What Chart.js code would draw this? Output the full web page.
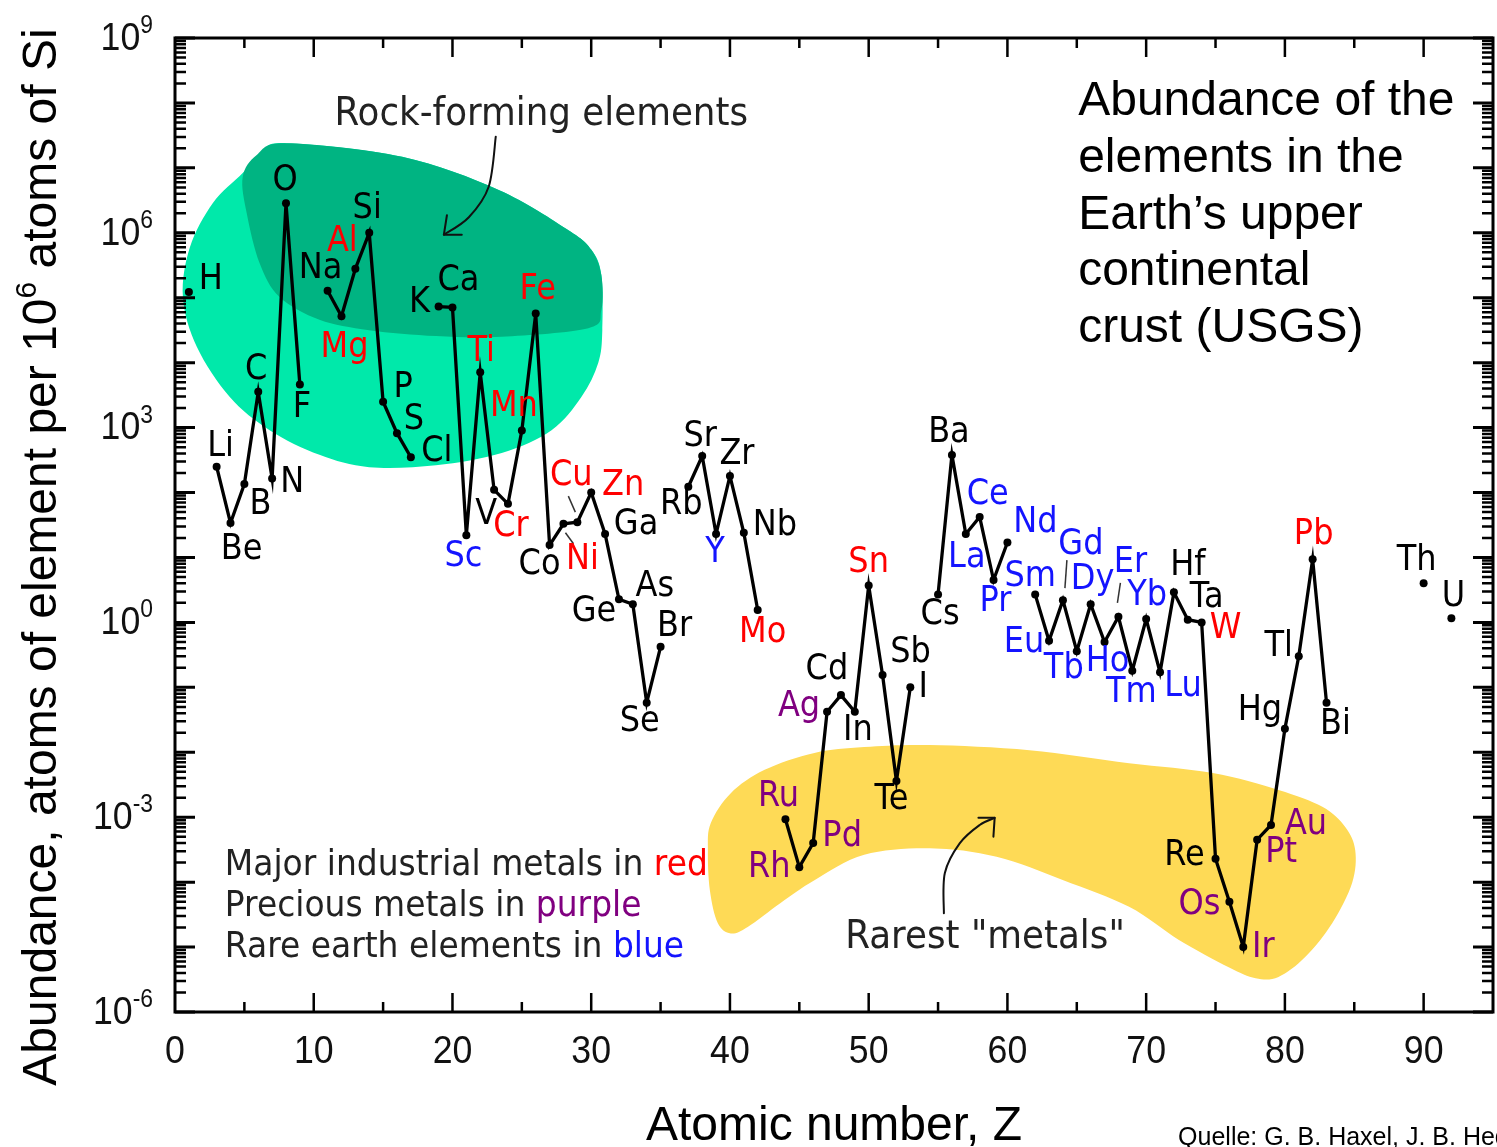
<!DOCTYPE html>
<html>
<head>
<meta charset="utf-8">
<script src="https://cdn.jsdelivr.net/npm/chart.js@4.4.1/dist/chart.umd.min.js"></script>
<style>
html,body{margin:0;padding:0;background:#fff;overflow:hidden}
canvas{display:block}
</style>
</head>
<body>
<canvas id="c" width="1497" height="1147"></canvas>
<script>
// ---------------- DATA ----------------
const ELEMENT_SYMBOLS = ["H","He","Li","Be","B","C","N","O","F","Ne","Na","Mg","Al","Si","P","S","Cl","Ar","K","Ca",
 "Sc","Ti","V","Cr","Mn","Fe","Co","Ni","Cu","Zn","Ga","Ge","As","Se","Br","Kr","Rb","Sr","Y","Zr",
 "Nb","Mo","Tc","Ru","Rh","Pd","Ag","Cd","In","Sn","Sb","Te","I","Xe","Cs","Ba","La","Ce","Pr","Nd",
 "Pm","Sm","Eu","Gd","Tb","Dy","Ho","Er","Tm","Yb","Lu","Hf","Ta","W","Re","Os","Ir","Pt","Au","Hg",
 "Tl","Pb","Bi","Po","At","Rn","Fr","Ra","Ac","Th","Pa","U"];

const ATOMIC_NUMBER = [1,2,3,4,5,6,7,8,9,10,11,12,13,14,15,16,17,18,19,20,
 21,22,23,24,25,26,27,28,29,30,31,32,33,34,35,36,37,38,39,40,
 41,42,43,44,45,46,47,48,49,50,51,52,53,54,55,56,57,58,59,60,
 61,62,63,64,65,66,67,68,69,70,71,72,73,74,75,76,77,78,79,80,
 81,82,83,84,85,86,87,88,89,90,91,92];

// atoms of element per 10^6 atoms of Si (null = not plotted)
const ABUNDANCE = [
 1.23e5, null, 250, 34, 135, 3550, 165, 2.85e6, 4600, null,
 1.28e5, 5.2e4, 2.8e5, 1.0e6, 2500, 820, 350, null, 7.3e4, 7.1e4,
 22, 7100, 110, 67, 900, 5.7e4, 15.5, 33, 35, 100,
 23, 2.27, 1.9, 0.058, 0.42, null, 123, 365, 23, 180,
 24, 1.55, null, 9.3e-4, 1.7e-4, 4.0e-4, 0.042, 0.076, 0.042, 3.7,
 0.155, 3.6e-3, 0.1, null, 2.7, 380, 23, 42, 4.5, 17,
 null, 2.7, 0.52, 2.2, 0.36, 1.9, 0.5, 1.22, 0.18, 1.13,
 0.17, 2.9, 1.1, 1.0, 2.3e-4, 5.0e-5, 1.0e-5, 4.5e-4, 7.6e-4, 0.023,
 0.30, 9.35, 0.058, null, null, null, null, null, null, 4.0,
 null, 1.16];

const INDUSTRIAL_METALS = ["Mg","Al","Ti","Cr","Mn","Fe","Ni","Cu","Zn","Mo","Sn","W","Pb"];
const PRECIOUS_METALS = ["Ru","Rh","Pd","Ag","Os","Ir","Pt","Au"];
const RARE_EARTHS = ["Sc","Y","La","Ce","Pr","Nd","Sm","Eu","Gd","Tb","Dy","Ho","Er","Tm","Yb","Lu"];

const X_LABEL_VALUES = [0,10,20,30,40,50,60,70,80,90];
const Y_LABEL_EXPONENTS = [-6,-3,0,3,6,9];
const Y_DECADES = [-6,-5,-4,-3,-2,-1,0,1,2,3,4,5,6,7,8];
const Y_MANTISSAS = [1,2,3,4,5,6,7,8,9];

const TITLE_LINES = ["Abundance of the","elements in the","Earth\u2019s upper","continental","crust (USGS)"];
const LEGEND_LINES = [["Major industrial metals in ","red"],["Precious metals in ","purple"],["Rare earth elements in ","blue"]];

// ---------------- STYLE / LAYOUT ----------------
const COLORS = {normal:"#000000", red:"#ff0000", purple:"#800080", blue:"#1414ff",
  greenLight:"rgb(0,233,170)", greenDark:"rgb(0,180,130)", yellow:"rgb(254,218,86)"};
const SX = 0.915; // horizontal squeeze of plot texts
const LABEL_FONT = '35px "DejaVu Sans"';

// label centre offsets (px) from each point
const LABEL_OFFSETS = {
 H:[22,-12], Li:[4,-20], Be:[11,27], B:[16,21], C:[-2,-22], N:[20,4], O:[-1,-22], F:[2,23],
 Na:[-7,-22], Mg:[3,32], Al:[-13,-27], Si:[-2,-24], P:[20,-14], S:[17,-13], Cl:[26,-5],
 K:[-19,-4], Ca:[6,-26], Sc:[-3,22], Ti:[1,-20], V:[-8,25], Cr:[3,23], Mn:[-8,-24], Fe:[2,-24],
 Co:[-10,20], Ni:[19,36], Cu:[-6,-46], Zn:[32,-7], Ga:[31,-9], Ge:[-25,13], As:[22,-17], Se:[-7,19], Br:[14,-20],
 Rb:[-7,18], Sr:[-2,-19], Y:[-1,19], Zr:[7,-21], Nb:[31,-7], Mo:[5,23],
 Ru:[-7,-22], Rh:[-30,1], Pd:[29,-6], Ag:[-28,-5], Cd:[-14,-25], In:[3,19], Sn:[0,-23], Sb:[28,-22], Te:[-5,19], I:[13,1],
 Cs:[2,21], Ba:[-3,-22], La:[1,24], Ce:[8,-22], Pr:[2,22], Nd:[28,-20], Sm:[-5,-17], Eu:[-25,2], Gd:[18,-55], Tb:[-13,18],
 Dy:[2,-24], Ho:[3,20], Er:[12,-54], Tm:[-1,22], Yb:[1,-23], Lu:[23,15], Hf:[14,-26], Ta:[19,-22], W:[24,7],
 Re:[-31,-3], Os:[-30,3], Ir:[20,1], Pt:[24,13], Au:[35,0], Hg:[-25,-18], Tl:[-20,-9], Pb:[1,-24], Bi:[9,22],
 Th:[-7,-22], U:[2,-21]
};
const LEADERS = {Cu:[-9,-26,-2,-10], Ni:[2,9,10,20], Gd:[4,-40,2,-12], Er:[2,-34,-1,-14]};

// decorative regions in data space: [Z, log10(abundance)]
const GREEN_OUTER = [[8.04,7.38],[16.37,7.17],[23.33,6.66],[28.36,6.04],[30.01,5.74],[30.73,5.35],[30.80,4.50],[30.51,4.00],[29.29,3.47],[27.14,2.96],[23.55,2.61],[18.81,2.42],[14.0,2.39],[10.41,2.58],[6.82,2.96],[3.95,3.47],[1.58,4.24],[0.57,5.01],[1.08,5.78],[2.73,6.46],[4.88,6.92],[6.25,7.24]];
const GREEN_INNER = [[8.04,7.38],[16.37,7.17],[23.33,6.66],[28.36,6.04],[30.01,5.74],[30.73,5.35],[30.73,4.81],[29.79,4.53],[23.55,4.40],[18.81,4.41],[14.0,4.50],[10.41,4.66],[7.54,5.01],[6.10,5.53],[5.17,6.30],[4.88,6.86],[5.89,7.20]];
const YELLOW = [[38.62,-3.09],[40.06,-2.63],[42.50,-2.27],[46.09,-2.01],[49.68,-1.92],[54.41,-1.89],[61.59,-1.97],[68.77,-2.17],[74.80,-2.32],[79.54,-2.58],[82.70,-2.84],[84.35,-3.15],[85.07,-3.51],[84.85,-4.01],[83.42,-4.63],[81.48,-5.15],[79.54,-5.46],[77.89,-5.48],[75.95,-5.31],[72.36,-4.89],[68.77,-4.38],[64.03,-3.97],[59.22,-3.61],[54.41,-3.48],[49.68,-3.58],[46.09,-3.97],[43.65,-4.32],[41.28,-4.69],[40.06,-4.79],[39.12,-4.63],[38.55,-4.12],[38.41,-3.51]];
const ROCK_ARROW = {path:[[23.12,7.48],[22.61,6.71],[21.18,6.24],[19.38,5.97]], head:[[19.60,6.27],[19.38,5.97],[20.67,5.97]]};
const RARE_ARROW = {path:[[55.42,-4.48],[55.49,-3.86],[56.57,-3.40],[58.0,-3.12],[59.08,-3.01]], head:[[57.91,-3.01],[59.08,-3.01],[58.99,-3.30]]};
const ROCK_TEXT_AT = [11.49, 7.81];
const RARE_TEXT_AT = [48.31, -4.86];
const LEGEND_AT = [3.59, -3.74];
const TITLE_AT = [65.1, 7.81];
const SOURCE_AT = [72.3];

// ---------------- helpers ----------------
function labelColor(sym){
  if (INDUSTRIAL_METALS.includes(sym)) return COLORS.red;
  if (PRECIOUS_METALS.includes(sym)) return COLORS.purple;
  if (RARE_EARTHS.includes(sym)) return COLORS.blue;
  return COLORS.normal;
}
function txt(ctx, s, x, y, font, color, align, baseline, sx){
  ctx.save(); ctx.translate(x, y); ctx.scale(sx || 1, 1);
  ctx.font = font; ctx.fillStyle = color; ctx.textAlign = align || 'left';
  ctx.textBaseline = baseline || 'alphabetic';
  ctx.fillText(s, 0, 0); ctx.restore();
}
function tw(ctx, s, font, sx){ ctx.save(); ctx.font = font; const m = ctx.measureText(s).width * (sx || 1); ctx.restore(); return m; }

function toPx(chart, p){ return [chart.scales.x.getPixelForValue(p[0]), chart.scales.y.getPixelForValue(Math.pow(10, p[1]))]; }

function smoothPath(ctx, P, closed){
  const n = P.length;
  ctx.moveTo(P[0][0], P[0][1]);
  const last = closed ? n : n - 1;
  for (let i = 0; i < last; i++){
    const p0 = closed ? P[(i - 1 + n) % n] : P[Math.max(i - 1, 0)];
    const p1 = P[i % n];
    const p2 = closed ? P[(i + 1) % n] : P[i + 1];
    const p3 = closed ? P[(i + 2) % n] : P[Math.min(i + 2, n - 1)];
    ctx.bezierCurveTo(p1[0] + (p2[0] - p0[0]) / 6, p1[1] + (p2[1] - p0[1]) / 6,
                      p2[0] - (p3[0] - p1[0]) / 6, p2[1] - (p3[1] - p1[1]) / 6, p2[0], p2[1]);
  }
}
function blob(chart, pts, color){
  const ctx = chart.ctx; const P = pts.map(p => toPx(chart, p));
  ctx.beginPath(); smoothPath(ctx, P, true); ctx.closePath();
  ctx.fillStyle = color; ctx.fill();
}
function arrow(chart, a){
  const ctx = chart.ctx;
  ctx.save(); ctx.strokeStyle = '#111'; ctx.lineWidth = 2; ctx.lineCap = 'round'; ctx.lineJoin = 'round';
  ctx.beginPath(); smoothPath(ctx, a.path.map(p => toPx(chart, p)), false); ctx.stroke();
  const H = a.head.map(p => toPx(chart, p));
  ctx.beginPath(); ctx.moveTo(H[0][0], H[0][1]); ctx.lineTo(H[1][0], H[1][1]); ctx.lineTo(H[2][0], H[2][1]); ctx.stroke();
  ctx.restore();
}

const decor = {
  id: 'decor',
  beforeDatasetsDraw(chart){
    const ctx = chart.ctx, ca = chart.chartArea;
    ctx.save(); ctx.beginPath(); ctx.rect(ca.left, ca.top, ca.right - ca.left, ca.bottom - ca.top); ctx.clip();
    blob(chart, GREEN_OUTER, COLORS.greenLight);
    blob(chart, GREEN_INNER, COLORS.greenDark);
    blob(chart, YELLOW, COLORS.yellow);
    ctx.restore();
  },
  afterDatasetsDraw(chart){
    const ctx = chart.ctx, ca = chart.chartArea, xs = chart.scales.x, ys = chart.scales.y;

    // leader lines
    ctx.save(); ctx.strokeStyle = '#333'; ctx.lineWidth = 1.5;
    Object.keys(LEADERS).forEach(sym => {
      const i = ELEMENT_SYMBOLS.indexOf(sym);
      const x = xs.getPixelForValue(ATOMIC_NUMBER[i]), y = ys.getPixelForValue(ABUNDANCE[i]);
      const L = LEADERS[sym];
      ctx.beginPath(); ctx.moveTo(x + L[0], y + L[1]); ctx.lineTo(x + L[2], y + L[3]); ctx.stroke();
    });
    ctx.restore();

    // element labels
    ELEMENT_SYMBOLS.forEach((sym, i) => {
      const v = ABUNDANCE[i];
      if (v === null || !LABEL_OFFSETS[sym]) return;
      const x = xs.getPixelForValue(ATOMIC_NUMBER[i]), y = ys.getPixelForValue(v);
      const o = LABEL_OFFSETS[sym];
      txt(ctx, sym, x + o[0], y + o[1], LABEL_FONT, labelColor(sym), 'center', 'middle', SX);
    });

    // arrows and annotation texts
    arrow(chart, ROCK_ARROW);
    arrow(chart, RARE_ARROW);
    let p = toPx(chart, ROCK_TEXT_AT);
    txt(ctx, 'Rock-forming elements', p[0], p[1], '39px "DejaVu Sans"', '#222', 'left', 'middle', SX);
    p = toPx(chart, RARE_TEXT_AT);
    txt(ctx, 'Rarest "metals"', p[0], p[1], '39px "DejaVu Sans"', '#222', 'left', 'middle', SX);

    // legend lines
    p = toPx(chart, LEGEND_AT);
    const lf = '36px "DejaVu Sans"';
    const lc = [COLORS.red, COLORS.purple, COLORS.blue];
    LEGEND_LINES.forEach((ln, k) => {
      const y = p[1] + k * 41;
      txt(ctx, ln[0], p[0], y, lf, '#222', 'left', 'middle', SX);
      const w0 = tw(ctx, ln[0], lf, SX);
      txt(ctx, ln[1], p[0] + w0, y, lf, lc[k], 'left', 'middle', SX);
    });

    // title block
    p = toPx(chart, TITLE_AT);
    TITLE_LINES.forEach((ln, k) => txt(ctx, ln, p[0], p[1] + k * 56.7, '48px "Liberation Sans", Arial, sans-serif', '#000', 'left', 'alphabetic', 1));

    // frame
    ctx.save(); ctx.strokeStyle = '#000'; ctx.lineWidth = 3;
    ctx.strokeRect(ca.left, ca.top, ca.right - ca.left, ca.bottom - ca.top);
    // x ticks (inward, bottom and top)
    ctx.lineWidth = 2.5;
    xs.ticks.forEach(t => {
      if (t.value <= xs.min || t.value >= xs.max) return;
      const x = xs.getPixelForValue(t.value);
      const len = (t.value % 10 === 0) ? 19 : 10;
      ctx.beginPath(); ctx.moveTo(x, ca.bottom); ctx.lineTo(x, ca.bottom - len);
      ctx.moveTo(x, ca.top); ctx.lineTo(x, ca.top + len); ctx.stroke();
    });
    // y ticks (inward, left and right)
    ys.ticks.forEach(t => {
      const y = ys.getPixelForValue(t.value);
      const lg = Math.log10(t.value);
      const major = Math.abs(lg - Math.round(lg)) < 1e-6;
      const len = major ? 20 : 11;
      ctx.lineWidth = major ? 3 : 2.5;
      ctx.beginPath(); ctx.moveTo(ca.left, y); ctx.lineTo(ca.left + len, y);
      ctx.moveTo(ca.right, y); ctx.lineTo(ca.right - len, y); ctx.stroke();
    });
    ctx.restore();

    // x tick labels
    const tf = '39px "Liberation Sans", Arial, sans-serif';
    X_LABEL_VALUES.forEach(v => txt(ctx, String(v), xs.getPixelForValue(v), ca.bottom + 40, tf, '#111', 'center', 'middle', SX));
    // y tick labels 10^n
    const ef = '25px "Liberation Sans", Arial, sans-serif';
    Y_LABEL_EXPONENTS.forEach(e => {
      const y = ys.getPixelForValue(Math.pow(10, e));
      const es = e < 0 ? '-' + Math.abs(e) : String(e);
      const right = ca.left - 22;
      const ew = tw(ctx, es, ef, SX);
      txt(ctx, es, right, y - 5, ef, '#111', 'right', 'alphabetic', SX);
      txt(ctx, '10', right - ew, y + 1, tf, '#111', 'right', 'middle', SX);
    });

    // axis titles
    const af = '48px "Liberation Sans", Arial, sans-serif';
    txt(ctx, 'Atomic number, Z', (ca.left + ca.right) / 2, ca.bottom + 128, af, '#000', 'center', 'alphabetic', 1);
    ctx.save();
    ctx.translate(56, 557); ctx.rotate(-Math.PI / 2);
    ctx.font = af; ctx.fillStyle = '#000'; ctx.textBaseline = 'alphabetic'; ctx.textAlign = 'left';
    const s1 = 'Abundance, atoms of element per 10', s3 = ' atoms of Si';
    const w1 = ctx.measureText(s1).width, w3 = ctx.measureText(s3).width;
    ctx.font = '30px "Liberation Sans", Arial, sans-serif';
    const w2 = ctx.measureText('6').width;
    const total = w1 + w2 + w3;
    let lx = -total / 2;
    ctx.font = af; ctx.fillText(s1, lx, 0);
    ctx.font = '30px "Liberation Sans", Arial, sans-serif'; ctx.fillText('6', lx + w1, -20);
    ctx.font = af; ctx.fillText(s3, lx + w1 + w2, 0);
    ctx.restore();

    // source
    txt(ctx, 'Quelle: G. B. Haxel, J. B. Hedrick, G. J. Orris', xs.getPixelForValue(SOURCE_AT[0]), ca.bottom + 133, '25px "Liberation Sans", Arial, sans-serif', '#000', 'left', 'alphabetic', 1);
  }
};

const Y_TICK_VALUES = [];
Y_DECADES.forEach(d => Y_MANTISSAS.forEach(m => Y_TICK_VALUES.push(m * Math.pow(10, d))));
Y_TICK_VALUES.push(1e9);

new Chart(document.getElementById('c'), {
  type: 'line',
  data: {
    datasets: [{
      data: ATOMIC_NUMBER.map((z, i) => ({x: z, y: ABUNDANCE[i]})),
      borderColor: '#000', borderWidth: 3.3,
      pointRadius: 4, pointBackgroundColor: '#000', pointBorderColor: '#000', pointBorderWidth: 0,
      spanGaps: false, tension: 0, fill: false
    }]
  },
  options: {
    responsive: false, animation: false, devicePixelRatio: 1,
    layout: {padding: {left: 0, top: 38, right: 1, bottom: 0}},
    plugins: {legend: {display: false}, tooltip: {enabled: false}, title: {display: false}},
    scales: {
      x: {type: 'linear', min: 0, max: 95, position: 'bottom',
          ticks: {display: false, stepSize: 5}, grid: {display: false}, border: {display: false},
          afterFit(s){ s.height = 135; }},
      y: {type: 'logarithmic', min: 1e-6, max: 1e9, position: 'left',
          ticks: {display: false}, grid: {display: false}, border: {display: false},
          afterFit(s){ s.width = 175; },
          afterBuildTicks(s){ s.ticks = Y_TICK_VALUES.map(v => ({value: v})); }}
    }
  },
  plugins: [decor]
});
</script>
</body>
</html>
